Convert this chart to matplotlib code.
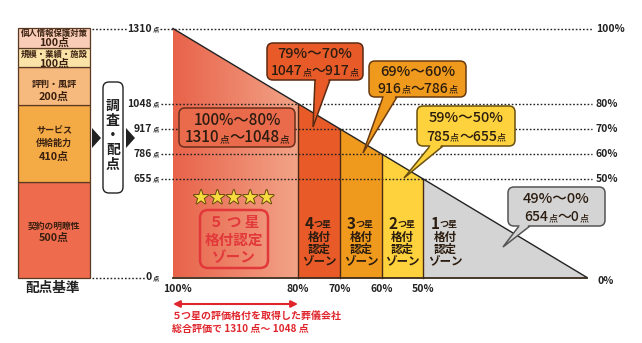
import re
import numpy as np
import matplotlib
matplotlib.use('Agg')
import matplotlib.pyplot as plt
import matplotlib.transforms as mtransforms
from matplotlib.patches import FancyBboxPatch, Polygon
from matplotlib.colors import LinearSegmentedColormap
import matplotlib.patheffects as pe

plt.rcParams['font.family'] = ['Noto Sans CJK JP', 'DejaVu Sans']

# ---------------- data ----------------
criteria = ['契約の明瞭性', 'サービス\n供給能力', '評判・風評', '規模・業績・施設', '個人情報保護対策']
criteria_points = [500, 410, 200, 100, 100]
criteria_colors = ['#ee6b4e', '#f4aa45', '#f6ba7e', '#fbe3a8', '#f8ccb6']

threshold_pct = [100, 80, 70, 60, 50, 0]
threshold_pts = [1310, 1048, 917, 786, 655, 0]
zone_stars = ['5', '4', '3', '2', '1']
zone_colors = [None, '#e85b28', '#f09a1d', '#fdd23d', '#d4d4d4']
callout_pct = ['100%～80%', '79%～70%', '69%～60%', '59%～50%', '49%～0%']
callout_pts = ['1310点～1048点', '1047点～917点', '916点～786点', '785点～655点', '654点～0点']
pct_labels = ['100%', '80%', '70%', '60%', '50%', '0%']
pts_labels = ['1310', '1048', '917', '786', '655', '0']

# ---------------- schematic (piecewise-linear) scales ----------------
P = np.array(threshold_pct[::-1], float)
S = np.array(threshold_pts[::-1], float)
U = np.array([0, 164, 205, 247, 289, 414], float)   # breakpoint layout
V = U * 249.0 / 414.0


def pw(x, xp, fp):
    x = np.asarray(x, float)
    y = np.interp(x, xp, fp)
    s0 = (fp[1] - fp[0]) / (xp[1] - xp[0])
    s1 = (fp[-1] - fp[-2]) / (xp[-1] - xp[-2])
    y = np.where(x < xp[0], fp[0] + (x - xp[0]) * s0, y)
    y = np.where(x > xp[-1], fp[-1] + (x - xp[-1]) * s1, y)
    return y


W, H = 642, 343
fig = plt.figure(figsize=(W / 100, H / 100), dpi=100)
fig.patch.set_facecolor('white')
PX = mtransforms.Affine2D().scale(1 / W, -1 / H).translate(0, 1) + fig.transFigure

TOP, BOT = 28.5, 277.5
ax = fig.add_axes([173 / W, (H - BOT) / H, 414 / W, (BOT - TOP) / H])
ax.set_xscale('function', functions=(lambda x: pw(x, P, U), lambda u: pw(u, U, P)))
ax.set_yscale('function', functions=(lambda y: pw(y, S, V), lambda v: pw(v, V, S)))
ax.set_axis_off()

XD_YP = mtransforms.blended_transform_factory(ax.transData, PX)
XP_YD = mtransforms.blended_transform_factory(PX, ax.transData)

dark = '#2b1c10'
edge = '#4a2a14'
renderer = fig.canvas.get_renderer()


def mixed(cx, cy, s, big, small, **kw):
    """Center a string at pixel (cx, cy); '点' drawn smaller, baselines aligned."""
    parts = [p for p in re.split('(点)', s) if p]
    texts = []
    for p in parts:
        fs = small if p == '点' else big
        t = ax.text(0, 0, p, transform=PX, ha='left', va='baseline', fontsize=fs, **kw)
        texts.append(t)
    widths = [t.get_window_extent(renderer).width for t in texts]
    x = cx - sum(widths) / 2
    base = cy + big * 0.36 * 100 / 72
    for t, w in zip(texts, widths):
        t.set_position((x, base))
        x += w


# ---------------- zones ----------------
pct, pts = threshold_pct, threshold_pts
for i in range(5):
    x0, x1 = pct[i], pct[i + 1]
    y0, y1 = pts[i], pts[i + 1]
    if i == 0:
        poly = Polygon([[x0, 0], [x0, y0], [x1, y1], [x1, 0]], closed=True,
                       facecolor='none', edgecolor='none', transform=ax.transData)
        ax.add_patch(poly)
        cmap = LinearSegmentedColormap.from_list('g', ['#e8634a', '#f2a488'])
        grad = np.linspace(0, 1, 256).reshape(1, -1)
        im = ax.imshow(grad, extent=[x0, x1, 0, y0], aspect='auto', cmap=cmap,
                       zorder=1, interpolation='bilinear')
        im.set_clip_path(poly)
    else:
        ax.fill_between([x0, x1], [y0, y1], 0, color=zone_colors[i], lw=0, zorder=1)

for i in range(1, 5):
    ax.plot([pct[i], pct[i]], [0, pts[i]], color=edge, lw=1.0, zorder=3, clip_on=False)
ax.plot(pct, pts, color='#222222', lw=1.0, zorder=3, clip_on=False)
ax.plot([pct[0], pct[-1]], [0, 0], color='#3a2a1a', lw=1.3, zorder=3, clip_on=False)

# ---------------- dotted level lines and labels ----------------
dot = dict(ls=(0, (1.2, 1.4)), lw=1.0, color='#222222', clip_on=False, zorder=2)
for lab, v in zip(pts_labels, pts):
    if v == 1310:
        segs = [(92, 128), (160, 592)]
    elif v == 0:
        segs = [(92, 145)]
    else:
        segs = [(161, 592)]
    for a, b in segs:
        ax.plot([a, b], [v, v], transform=XP_YD, **dot)
    ax.text(152, v, lab, transform=XP_YD, ha='right', va='center', fontsize=7.5,
            fontweight='bold', color='#222222')
    ax.text(152.5, v, '点', transform=XP_YD, ha='left', va='center', fontsize=4.5,
            fontweight='bold', color='#222222')

for lab, v in zip(pct_labels[:-1], pts[:-1]):
    ax.text(596, v, lab, transform=XP_YD, ha='left', va='center', fontsize=7.5,
            fontweight='bold', color='#222222')
ax.text(597, 281, pct_labels[-1], transform=PX, ha='left', va='center', fontsize=7.5,
        fontweight='bold', color='#222222')

for lab, x in zip(pct_labels[:-1], pct[:-1]):
    off = 4 if x == 100 else 0
    ax.text(x, 289, lab, transform=XD_YP + mtransforms.Affine2D().translate(off, 0),
            ha='center', va='center', fontsize=7.5, fontweight='bold', color='#222222')

# ---------------- callouts ----------------
boxes = [(179, 108, 295, 147), (267, 43, 363, 80), (369, 61, 466, 97),
         (417, 106, 515, 146), (508, 187, 605, 226)]
tails = [None, (315, 330, 313, 127), (383, 397, 363, 153),
         (430, 443, 404, 178), (519, 530, 503, 247)]
box_fc = ['#ea6a4c', '#e85b28', '#f09a1d', '#fdd23d', '#d4d4d4']
box_ec = ['#6a2e1a', '#5a2a12', '#6a3a10', '#6a5010', '#555555']
for i in range(5):
    x0, y0, x1, y1 = boxes[i]
    fc, ec = box_fc[i], box_ec[i]
    bp = FancyBboxPatch((x0, y0), x1 - x0, y1 - y0,
                        boxstyle='round,pad=0,rounding_size=6',
                        transform=PX, fc=fc, ec=ec, lw=1.1, zorder=6, clip_on=False)
    ax.add_artist(bp)
    if tails[i] is not None:
        b0, b1, tx, ty = tails[i]
        tail = Polygon([[b0, y1], [tx, ty], [b1, y1]], closed=True, transform=PX,
                       fc=fc, ec=ec, lw=1.1, zorder=5, clip_on=False)
        ax.add_artist(tail)
        t = 0.06
        e0 = (b0 + t * (tx - b0), y1 + t * (ty - y1))
        e1 = (b1 + t * (tx - b1), y1 + t * (ty - y1))
        cover = Polygon([[b0 + 1.2, y1 - 2.5], [b1 - 1.2, y1 - 2.5],
                         [e1[0] - 1.0, e1[1]], [e0[0] + 1.0, e0[1]]], closed=True,
                        transform=PX, fc=fc, ec='none', zorder=7, clip_on=False)
        ax.add_artist(cover)
    cx = (x0 + x1) / 2
    h = y1 - y0
    ax.text(cx, y0 + h * 0.31, callout_pct[i], transform=PX, ha='center', va='center',
            fontsize=10.5 if i else 11, fontweight='medium', color=dark, zorder=8)
    mixed(cx, y0 + h * 0.74, callout_pts[i], 10.0 if i else 11, 6.5 if i else 7,
          fontweight='medium', color=dark, zorder=8)

# ---------------- zone labels ----------------
for k in range(5):
    ax.text(201 + k * 16.4, 198, '★', transform=PX, ha='center', va='center', fontsize=11,
            color='#f7dc40', zorder=4,
            path_effects=[pe.withStroke(linewidth=1.4, foreground='#6a4a10')])
star_box = FancyBboxPatch((200, 210), 68, 58, boxstyle='round,pad=0,rounding_size=8',
                          transform=PX, fc='none', ec='#e2383a', lw=1.8, zorder=4)
ax.add_artist(star_box)
for txt, yy in zip(['５ つ 星', '格付認定', 'ゾーン'], [222, 240, 257]):
    ax.text(234, yy, txt, transform=PX, ha='center', va='center', fontsize=10.5,
            fontweight='bold', color='#e2383a', zorder=4)

zone_cx = [None, 75, 65, 55, 43.3]
for i in range(1, 5):
    cx = zone_cx[i]
    tr = XD_YP
    ax.text(cx, 224, zone_stars[i], transform=tr + mtransforms.Affine2D().translate(-5, 0),
            ha='right', va='center', fontsize=11, fontweight='bold', color=dark, zorder=4)
    ax.text(cx, 225, 'つ星', transform=tr + mtransforms.Affine2D().translate(-5, 0),
            ha='left', va='center', fontsize=6.5, fontweight='bold', color=dark, zorder=4)
    for txt, yy in zip(['格付', '認定', 'ゾーン'], [237.5, 249.5, 261]):
        ax.text(cx, yy, txt, transform=tr, ha='center', va='center', fontsize=8.3,
                fontweight='bold', color=dark, zorder=4)

# ---------------- red note ----------------
ax.annotate('', xy=(pct[1], 304), xytext=(pct[0], 304), xycoords=XD_YP, textcoords=XD_YP,
            arrowprops=dict(arrowstyle='<|-|>', color='#e0262d', lw=1.5,
                            mutation_scale=10, shrinkA=0, shrinkB=0))
ax.text(172, 316, '５つ星の評価格付を取得した葬儀会社', transform=PX, ha='left', va='center',
        fontsize=7.2, fontweight='bold', color='#e0262d')
ax.text(172, 329, '総合評価で 1310 点～ 1048 点', transform=PX, ha='left', va='center',
        fontsize=7.2, fontweight='bold', color='#e0262d')

ax.set_xlim(100, 0)
ax.set_ylim(0, 1310)

# ---------------- left criteria bar ----------------
axL = fig.add_axes([18 / W, (H - BOT) / H, 72 / W, (BOT - TOP) / H])
bottoms = np.concatenate([[0], np.cumsum(criteria_points)[:-1]])
bars = axL.bar(0, criteria_points, bottom=bottoms, width=1.0, color=criteria_colors,
               edgecolor='#5a3a22', lw=0.9, align='center')
for b in bars:
    b.set_clip_on(False)
axL.set_xlim(-0.5, 0.5)
axL.set_ylim(0, 1310)
axL.set_axis_off()
name_off = [4, 6.5, 1.5, 3, 5]
num_off = [-8, -13.5, -11.5, -7, -5]
name_fs = [6.3, 6.5, 6.5, 6.0, 6.0]
for i, (nm, p, b0) in enumerate(zip(criteria, criteria_points, bottoms)):
    c = b0 + p / 2
    axL.annotate(nm, xy=(0, c), xytext=(0, name_off[i]), textcoords='offset pixels',
                 ha='center', va='center', fontsize=name_fs[i], fontweight='bold',
                 color='#3a2010', linespacing=1.45)
    axL.annotate(f'{p}点', xy=(0, c), xytext=(0, num_off[i]), textcoords='offset pixels',
                 ha='center', va='center', fontsize=7.8, fontweight='bold', color='#3a2010')

fig.text(53, 288, '配点基準', transform=PX, ha='center', va='center', fontsize=9.8,
         fontweight='bold', color='#222222')

# ---------------- arrows & process box ----------------
for xa in (92, 126):
    fig.add_artist(Polygon([[xa, 128], [xa, 148], [xa + 9, 138]], closed=True,
                           transform=PX, fc='#222222', ec='none'))
fig.add_artist(FancyBboxPatch((103, 82), 20, 111, boxstyle='round,pad=0,rounding_size=6',
                              transform=PX, fc='white', ec='#222222', lw=1.0))
for txt, yy in zip(['調', '査', '・', '配', '点'], [106, 121, 136, 150, 165]):
    fig.text(113, yy, txt, transform=PX, ha='center', va='center', fontsize=10,
             fontweight='bold', color='#222222')

fig.savefig('out.png', dpi=100, facecolor='white')
